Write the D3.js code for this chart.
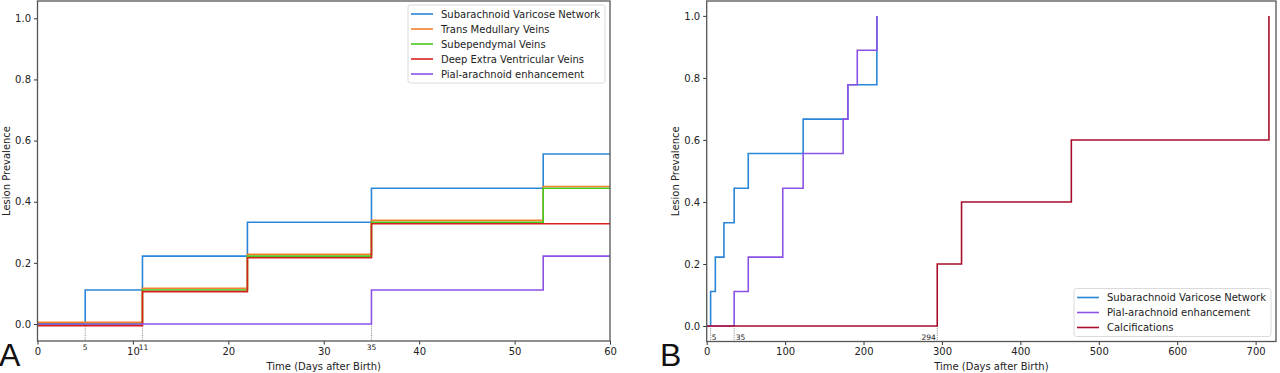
<!DOCTYPE html>
<html>
<head>
<meta charset="utf-8">
<script src="https://cdn.jsdelivr.net/npm/d3@7"></script>
<style>
  body { margin: 0; background: #fff; }
  svg { display: block; font-family: "DejaVu Sans", sans-serif; }
</style>
</head>
<body>
<div id="chart"></div>
<script>
// =====================================================
// DATA (step changes: day of onset -> cumulative prevalence)
// =====================================================

const svnDays = [0, 5, 11, 22, 35, 53, 123, 180, 217];
const svnPrev = [0, 0.111, 0.222, 0.333, 0.444, 0.556, 0.667, 0.778, 1.0];

const tmvDays = [0, 11, 22, 35, 53];
const tmvPrev = [0, 0.111, 0.222, 0.333, 0.444];

const sevDays = [0, 11, 22, 35, 53];
const sevPrev = [0, 0.111, 0.222, 0.333, 0.444];

const devDays = [0, 11, 22, 35];
const devPrev = [0, 0.111, 0.222, 0.333];

const pialDays = [0, 35, 53, 97, 123, 174, 180, 192, 217];
const pialPrev = [0, 0.111, 0.222, 0.444, 0.556, 0.667, 0.778, 0.889, 1.0];

const calcDays = [0, 294, 325, 465, 717];
const calcPrev = [0, 0.2, 0.4, 0.6, 1.0];

const leftXTicks = [0, 10, 20, 30, 40, 50, 60];
const rightXTicks = [0, 100, 200, 300, 400, 500, 600, 700];
const yTicks = [0, 0.2, 0.4, 0.6, 0.8, 1.0];

const leftMarks = [5, 11, 35];
const rightMarks = [5, 35, 294];

// =====================================================
// SERIES STYLE
// =====================================================

const SVN = { name: "Subarachnoid Varicose Network", days: svnDays, prev: svnPrev, color: "#2a86d8" };
const TMV = { name: "Trans Medullary Veins", days: tmvDays, prev: tmvPrev, color: "#f5802a" };
const SEV = { name: "Subependymal Veins", days: sevDays, prev: sevPrev, color: "#45c81e" };
const DEV = { name: "Deep Extra Ventricular Veins", days: devDays, prev: devPrev, color: "#d8201e" };
const PIAL = { name: "Pial-arachnoid enhancement", days: pialDays, prev: pialPrev, color: "#8c52e6" };
const CALC = { name: "Calcifications", days: calcDays, prev: calcPrev, color: "#a80e2c" };

const W = 1280, H = 373;

const svg = d3.select("#chart")
  .append("svg")
  .attr("width", W)
  .attr("height", H);

function drawPanel(cfg) {
  const x = d3.scaleLinear().domain(cfg.xDomain).range([cfg.left, cfg.right]);
  const y = d3.scaleLinear().domain(cfg.yDomain).range([cfg.bottom, cfg.top]);

  const g = svg.append("g");

  // clip to axes box
  const clipId = "clip-" + cfg.id;
  svg.append("clipPath").attr("id", clipId)
    .append("rect")
    .attr("x", cfg.left).attr("y", cfg.top)
    .attr("width", cfg.right - cfg.left).attr("height", cfg.bottom - cfg.top);

  const plot = g.append("g").attr("clip-path", `url(#${clipId})`);

  // dotted guide lines at first onsets
  plot.selectAll("line.guide")
    .data(cfg.marks)
    .enter()
    .append("line")
    .attr("class", "guide")
    .attr("x1", d => x(d)).attr("x2", d => x(d))
    .attr("y1", y(0)).attr("y2", cfg.bottom)
    .style("stroke", "#666")
    .style("stroke-width", 0.8)
    .style("stroke-dasharray", "1,1.2");

  const line = d3.line()
    .x(d => x(d[0]))
    .y(d => y(d[1]))
    .curve(d3.curveStepAfter);

  cfg.series.forEach(s => {
    let pts = s.days.map((d, i) => [d, s.prev[i]]);
    if (cfg.extend) {
      pts = pts.filter(p => p[0] <= cfg.xDomain[1]);
      pts.push([cfg.xDomain[1], pts[pts.length - 1][1]]);
    }
    plot.append("path")
      .datum(pts)
      .attr("d", line)
      .attr("transform", `translate(0,${(cfg.shift && cfg.shift[s.name]) || 0})`)
      .style("fill", "none")
      .style("stroke", s.color)
      .style("stroke-width", 1.6);
  });

  // mark labels
  g.selectAll("text.mark")
    .data(cfg.marks)
    .enter()
    .append("text")
    .attr("class", "mark")
    .attr("x", (d, i) => x(d) + cfg.markDx[i])
    .attr("y", cfg.markY)
    .attr("text-anchor", (d, i) => cfg.markAnchor[i])
    .style("font-size", "7.5px")
    .style("fill", "#222")
    .text(d => d);

  // axes
  g.append("g")
    .attr("transform", `translate(0,${cfg.bottom})`)
    .call(d3.axisBottom(x).tickValues(cfg.xTicks).tickSize(3.5).tickPadding(3).tickFormat(d3.format("d")))
    .call(a => a.select(".domain").remove())
    .call(a => a.selectAll("text").style("font-size", "10px").style("fill", "#222").style("font-family", "DejaVu Sans"))
    .call(a => a.selectAll("line").style("stroke", "#333"));

  g.append("g")
    .attr("transform", `translate(${cfg.left},0)`)
    .call(d3.axisLeft(y).tickValues(yTicks).tickSize(3.5).tickPadding(3).tickFormat(d3.format(".1f")))
    .call(a => a.select(".domain").remove())
    .call(a => a.selectAll("text").style("font-size", "10px").style("fill", "#222").style("font-family", "DejaVu Sans"))
    .call(a => a.selectAll("line").style("stroke", "#333"));

  // frame
  g.append("rect")
    .attr("x", cfg.left).attr("y", cfg.top)
    .attr("width", cfg.right - cfg.left).attr("height", cfg.bottom - cfg.top)
    .style("fill", "none")
    .style("stroke", "#555")
    .style("stroke-width", 1.3);

  // axis titles
  g.append("text")
    .attr("x", (cfg.left + cfg.right) / 2)
    .attr("y", 370)
    .attr("text-anchor", "middle")
    .style("font-size", "10px")
    .style("fill", "#222")
    .text("Time (Days after Birth)");

  g.append("text")
    .attr("transform", `translate(${cfg.ylabelX},${(cfg.top + cfg.bottom) / 2}) rotate(-90)`)
    .attr("text-anchor", "middle")
    .style("font-size", "10px")
    .style("fill", "#222")
    .text("Lesion Prevalence");

  // panel letter
  g.append("text")
    .attr("x", cfg.letterX)
    .attr("y", 366)
    .style("font-family", "Liberation Sans, Arial, sans-serif")
    .style("font-size", "32px")
    .style("fill", "#111")
    .text(cfg.letter);

  // legend
  const rowH = 15;
  const lg = g.append("g");
  const box = lg.append("rect")
    .attr("rx", 2.5)
    .style("fill", "#fff")
    .style("fill-opacity", 0.85)
    .style("stroke", "#d6d6d6")
    .style("stroke-width", 0.9);
  let maxW = 0;
  cfg.series.forEach((s, i) => {
    const cy = 9 + i * rowH;
    lg.append("line")
      .attr("x1", 3).attr("x2", 25)
      .attr("y1", cy).attr("y2", cy)
      .style("stroke", s.color)
      .style("stroke-width", 1.6);
    const t = lg.append("text")
      .attr("x", 33).attr("y", cy)
      .attr("dy", "0.35em")
      .style("font-size", "10px")
      .style("fill", "#222")
      .text(s.name);
    maxW = Math.max(maxW, t.node().getComputedTextLength());
  });
  const bw = 33 + maxW + 5;
  const bh = 18 + (cfg.series.length - 1) * rowH;
  box.attr("width", bw).attr("height", bh);
  const lx = cfg.right - 5 - bw;
  const ly = cfg.legendPos === "top" ? cfg.top + 4 : cfg.bottom - 5 - bh;
  lg.attr("transform", `translate(${lx},${ly})`);
}

// =====================================================
// PANEL A (first 60 days)
// =====================================================

const leftSeries = [SVN, TMV, SEV, DEV, PIAL];
const leftShift = {};
leftShift[TMV.name] = -1.8;
leftShift[DEV.name] = 1.6;

drawPanel({
  id: "a",
  left: 37.5, right: 610, top: 1, bottom: 341,
  xDomain: [0, 60], yDomain: [-0.0556, 1.0566],
  xTicks: leftXTicks,
  series: leftSeries,
  shift: leftShift,
  extend: true,
  marks: leftMarks,
  markDx: [0, 1, 0],
  markAnchor: ["middle", "middle", "middle"],
  markY: 350,
  ylabelX: 9.5,
  letter: "A", letterX: -1,
  legendPos: "top"
});

// =====================================================
// PANEL B (full follow-up)
// =====================================================

drawPanel({
  id: "b",
  left: 706.7, right: 1276, top: 1, bottom: 341.5,
  xDomain: [0, 726], yDomain: [-0.05, 1.048],
  xTicks: rightXTicks,
  series: [SVN, PIAL, CALC],
  extend: false,
  marks: rightMarks,
  markDx: [1.2, 1.5, -1.5],
  markAnchor: ["start", "start", "end"],
  markY: 340,
  ylabelX: 678.5,
  letter: "B", letterX: 660,
  legendPos: "bottom"
});
</script>
</body>
</html>
